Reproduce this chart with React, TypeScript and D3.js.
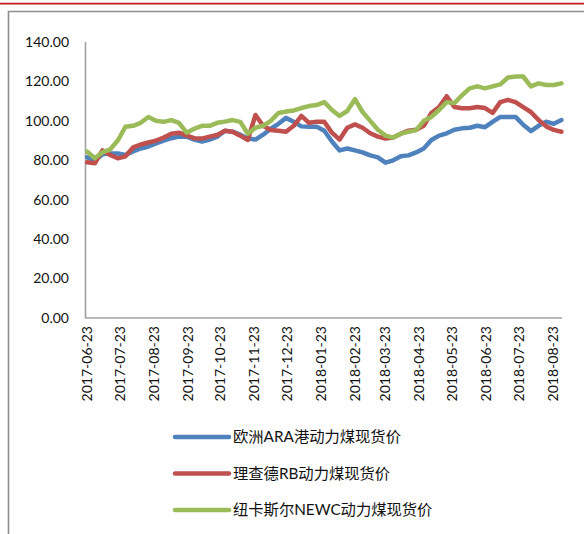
import React from "react";
import * as d3 from "d3";

const dates = [
  "2017-06-23","2017-06-30","2017-07-07","2017-07-14","2017-07-21","2017-07-28","2017-08-04","2017-08-11","2017-08-18","2017-08-25",
  "2017-09-01","2017-09-08","2017-09-15","2017-09-22","2017-09-29","2017-10-06","2017-10-13","2017-10-20","2017-10-27","2017-11-03",
  "2017-11-10","2017-11-17","2017-11-24","2017-12-01","2017-12-08","2017-12-15","2017-12-22","2017-12-29","2018-01-05","2018-01-12",
  "2018-01-19","2018-01-26","2018-02-02","2018-02-09","2018-02-16","2018-02-23","2018-03-02","2018-03-09","2018-03-16","2018-03-23",
  "2018-03-30","2018-04-06","2018-04-13","2018-04-20","2018-04-27","2018-05-04","2018-05-11","2018-05-18","2018-05-25","2018-06-01",
  "2018-06-08","2018-06-15","2018-06-22","2018-06-29","2018-07-06","2018-07-13","2018-07-20","2018-07-27","2018-08-03","2018-08-10",
  "2018-08-17","2018-08-24","2018-08-31",
];

const araValues = [
  81.5, 80, 83, 83.5, 83.5, 82.7, 84.5, 86, 87, 88.6,
  90, 91.2, 92, 92, 90.5, 89.5, 90.5, 92, 95, 94.5,
  93, 91, 90.5, 93, 96, 98.5, 101.5, 99.5, 97.2, 97,
  97, 95, 89.5, 85, 86, 85, 84, 82.5, 81.5, 78.8,
  80, 82, 82.5, 84, 86, 90.3, 92.5, 93.7, 95.5, 96.2,
  96.5, 97.5, 96.8, 99.5, 102, 102, 102, 98, 94.8, 97.5,
  99.6, 98.5, 100.4,
];

const rbValues = [
  79, 78.5, 85, 82.7, 81, 82, 86.5, 88, 89, 90,
  91.5, 93.5, 94, 92.5, 91.2, 91, 92, 92.8, 95, 94.5,
  92.5, 90.3, 103, 97.5, 95.4, 95, 94.5, 97.5, 102.5, 99,
  99.6, 99.5, 94, 90.5, 96.5, 98.2, 96.5, 93.7, 92, 91,
  91.5, 93.5, 95, 95.5, 97.5, 104, 107, 112.5, 107, 106.4,
  106.4, 107, 106.5, 104, 109.5, 110.6, 109.5, 107, 104.5, 100.5,
  97.2, 95.4, 94.5,
];

const newcValues = [
  84.4, 81, 84, 85.5, 90, 97, 97.5, 99, 102, 100,
  99.5, 100.4, 99, 94, 96, 97.5, 97.5, 99, 99.6, 100.4,
  99.5, 93.5, 96.5, 97.5, 100, 104, 104.7, 105.3, 106.5, 107.5,
  108, 109.5, 105.5, 102.5, 105, 111, 104.5, 100, 95.5, 92.5,
  91.5, 93.5, 94.5, 95.3, 100, 102, 105.5, 109.5, 109, 113,
  116.5, 117.5, 116.5, 117.5, 118.5, 122, 122.5, 122.5, 117.5, 119,
  118.2, 118.2, 119,
];

const tickDates = [
  "2017-06-23","2017-07-23","2017-08-23","2017-09-23","2017-10-23","2017-11-23","2017-12-23",
  "2018-01-23","2018-02-23","2018-03-23","2018-04-23","2018-05-23","2018-06-23","2018-07-23","2018-08-23",
];

const yTicks = [0, 20, 40, 60, 80, 100, 120, 140];

const seriesNames = ["欧洲ARA港动力煤现货价", "理查德RB动力煤现货价", "纽卡斯尔NEWC动力煤现货价"];
const seriesColors = ["#4F81BD", "#C0504D", "#9BBB59"];
const seriesValues = [araValues, rbValues, newcValues];

const parse = d3.timeParse("%Y-%m-%d");

export default function App() {
  const W = 584, H = 534;
  const x = d3.scaleTime()
    .domain([parse("2017-06-21") as Date, new Date(2018, 7, 31, 12)])
    .range([85, 562]);
  const y = d3.scaleLinear().domain([0, 140]).range([318, 42]);
  const parsedDates = dates.map((d) => parse(d) as Date);

  const line = d3.line<number>()
    .x((_, i) => x(parsedDates[i]))
    .y((v) => y(v));

  const font = "Lato, 'Noto Sans CJK SC', sans-serif";

  return (
    <svg width={W} height={H} style={{ position: "absolute", left: 0, top: 0, background: "#fff" }}>
      <rect x={0} y={0} width={W} height={H} fill="#fff" />
      <line x1={0} x2={W} y1={3.6} y2={3.6} stroke="#C8161D" strokeWidth={1.6} />
      <path d={`M8.5,${H} V11.5 H${W}`} fill="none" stroke="#8E8E8E" strokeWidth={1.6} />

      <line x1={85.5} x2={85.5} y1={42} y2={318} stroke="#A0A0A0" strokeWidth={1.6} />
      <line x1={85} x2={562} y1={318} y2={318} stroke="#A0A0A0" strokeWidth={1.6} />

      {yTicks.map((t) => (
        <text key={t} x={69} y={y(t)} dy="0.35em" textAnchor="end" fontFamily={font} fontSize={14} fill="#111">
          {t.toFixed(2)}
        </text>
      ))}

      {tickDates.map((t) => {
        const tx = x(parse(t) as Date);
        return (
          <text key={t} transform={`translate(${tx},326) rotate(-90)`} dy="0.35em" textAnchor="end"
            fontFamily={font} fontSize={14} fill="#111">
            {t}
          </text>
        );
      })}

      {seriesValues.map((vals, si) => (
        <path key={si} d={line(vals) || ""} fill="none" stroke={seriesColors[si]} strokeWidth={4.5}
          strokeLinejoin="round" strokeLinecap="round" />
      ))}

      {seriesNames.map((name, si) => {
        const ly = 437 + si * 36.5;
        return (
          <g key={name}>
            <line x1={175} x2={229} y1={ly} y2={ly} stroke={seriesColors[si]} strokeWidth={4.5} strokeLinecap="round" />
            <text x={233} y={ly} dy="0.35em" fontFamily={font} fontSize={15.3} fill="#111">{name}</text>
          </g>
        );
      })}
    </svg>
  );
}
